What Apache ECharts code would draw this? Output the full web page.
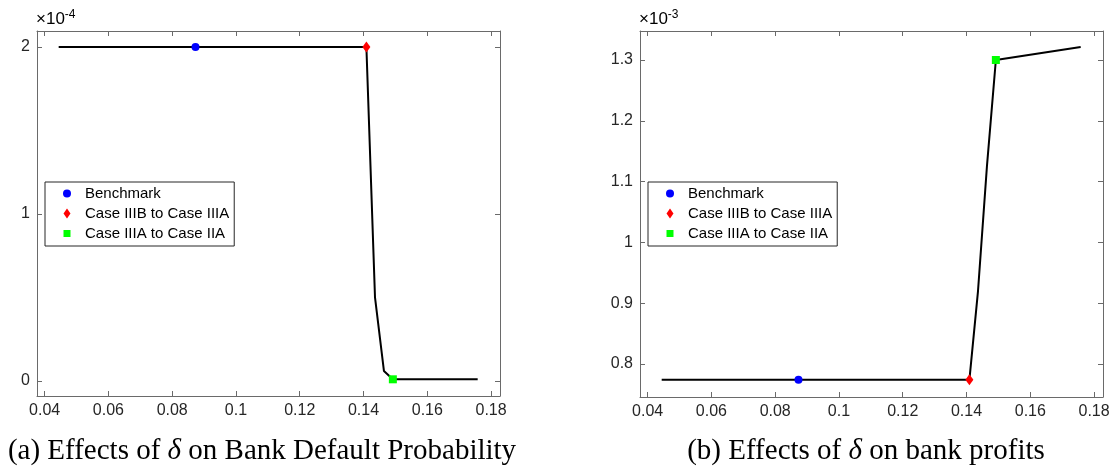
<!DOCTYPE html>
<html>
<head>
<meta charset="utf-8">
<script src="https://cdn.jsdelivr.net/npm/echarts@6/dist/echarts.min.js"></script>
<style>html,body{margin:0;padding:0;background:#fff;}#c{width:1117px;height:466px;}</style>
</head>
<body>
<div id="c"></div>
<script>
// ---- data ----
const xTicks = [0.04, 0.06, 0.08, 0.1, 0.12, 0.14, 0.16, 0.18];
const deltaValues = [0.0444, 0.1409, 0.1436, 0.1464, 0.1492, 0.1758];
const defaultProb = [2, 2, 0.5, 0.06, 0.01, 0.01];          // x 10^-4
const bankProfits = [0.774, 0.774, 0.92, 1.125, 1.3, 1.3214]; // x 10^-3
const yTicksA = [0, 1, 2];
const yTicksB = [0.8, 0.9, 1, 1.1, 1.2, 1.3];
const markerNames = ['Benchmark', 'Case IIIB to Case IIIA', 'Case IIIA to Case IIA'];
const markerDelta = [0.0873, 0.1409, 0.1492];
const markerProbA = [2, 2, 0.01];
const markerProfitB = [0.774, 0.774, 1.3];

const markerColors = ['#0000ff', '#ff0000', '#00ff00'];
const diamondPath = 'path://M0,-5L3.5,0L0,5L-3.5,0Z';
const markerSymbols = ['circle', diamondPath, 'rect'];
const legendIcons = [
  'path://M0,-5L0,-5M0,5L0,5M4,0A4,4,0,1,1,-4,0A4,4,0,1,1,4,0Z',
  diamondPath,
  'path://M0,-5L0,-5M0,5L0,5M-3.5,-3.5L3.5,-3.5L3.5,3.5L-3.5,3.5Z'
];
const markerSizes = [8, [8, 11], 8];

const axisCol = '#6a6a6a';
const labelCol = '#262626';
const font = 'Liberation Sans';

function xAxes(gi) {
  const base = {
    type: 'value', gridIndex: gi, min: 0.0376, max: 0.1828,
    splitLine: { show: false },
    axisLine: { show: true, onZero: false, lineStyle: { color: axisCol, width: 1 } },
    axisTick: { show: true, inside: true, length: 5, customValues: xTicks, lineStyle: { color: axisCol } }
  };
  return [
    Object.assign({}, base, { position: 'bottom',
      axisLabel: { show: true, customValues: xTicks, margin: 7, color: labelCol, fontSize: 16, fontFamily: font } }),
    Object.assign({}, base, { position: 'top', axisLabel: { show: false } })
  ];
}
function yAxes(gi, min, max, ticks) {
  const base = {
    type: 'value', gridIndex: gi, min: min, max: max,
    splitLine: { show: false },
    axisLine: { show: true, onZero: false, lineStyle: { color: axisCol, width: 1 } },
    axisTick: { show: true, inside: true, length: 5, customValues: ticks, lineStyle: { color: axisCol } }
  };
  return [
    Object.assign({}, base, { position: 'left',
      axisLabel: { show: true, customValues: ticks, margin: 7, color: labelCol, fontSize: 16, fontFamily: font } }),
    Object.assign({}, base, { position: 'right', axisLabel: { show: false } })
  ];
}

const series = [];
function addPanel(gi, yVals, markerY) {
  series.push({
    type: 'line', xAxisIndex: gi * 2, yAxisIndex: gi * 2,
    data: deltaValues.map((d, i) => [d, yVals[i]]),
    showSymbol: false, symbol: 'none', silent: true, z: 2,
    lineStyle: { color: '#000', width: 2 }
  });
  markerNames.forEach((n, k) => {
    series.push({
      name: n, type: 'scatter', xAxisIndex: gi * 2, yAxisIndex: gi * 2, z: 5,
      symbol: markerSymbols[k], symbolSize: markerSizes[k],
      itemStyle: { color: markerColors[k], opacity: 1 },
      data: [[markerDelta[k], markerY[k]]]
    });
  });
}
addPanel(0, defaultProb, markerProbA);
addPanel(1, bankProfits, markerProfitB);

function legend(left) {
  return {
    orient: 'vertical', left: left, top: 182,
    padding: [4, 5, 5, 18], itemGap: 5, itemWidth: 26, itemHeight: 10,
    backgroundColor: '#fff', borderColor: '#262626', borderWidth: 1,
    selectedMode: false,
    textStyle: { fontSize: 15, fontFamily: font, color: '#000', lineHeight: 15 },
    data: markerNames.map((n, k) => ({ name: n, icon: legendIcons[k] }))
  };
}

const expStyle = {
  a: { fontSize: 17, fontFamily: font, color: labelCol },
  b: { fontSize: 12, fontFamily: font, color: labelCol, padding: [0, 0, 8, 0] }
};
const capRich = {
  n: { fontSize: 29, fontFamily: 'Liberation Serif', color: '#000' },
  i: { fontSize: 29, fontFamily: 'Liberation Serif', fontStyle: 'italic', color: '#000' }
};

const option = {
  backgroundColor: '#fff',
  animation: false,
  grid: [
    { left: 37, top: 31, width: 463, height: 365 },
    { left: 640, top: 31, width: 463, height: 366 }
  ],
  xAxis: xAxes(0).concat(xAxes(1)),
  yAxis: yAxes(0, -0.09, 2.096, yTicksA).concat(yAxes(1, 0.7457, 1.3477, yTicksB)),
  legend: [legend(45), legend(648)],
  series: series,
  graphic: [
    { type: 'text', left: 36, top: 9, style: { text: '{a|×10}{b|-4}', rich: expStyle } },
    { type: 'text', left: 639, top: 9, style: { text: '{a|×10}{b|-3}', rich: expStyle } },
    { type: 'text', x: 262, y: 451, style: { text: '{n|(a) Effects of }{i|δ}{n| on Bank Default Probability}', rich: capRich, align: 'center', verticalAlign: 'middle' } },
    { type: 'text', x: 866, y: 451, style: { text: '{n|(b) Effects of }{i|δ}{n| on bank profits}', rich: capRich, align: 'center', verticalAlign: 'middle' } }
  ]
};

const chart = echarts.init(document.getElementById('c'), null, { renderer: 'canvas' });
chart.setOption(option);
</script>
</body>
</html>
